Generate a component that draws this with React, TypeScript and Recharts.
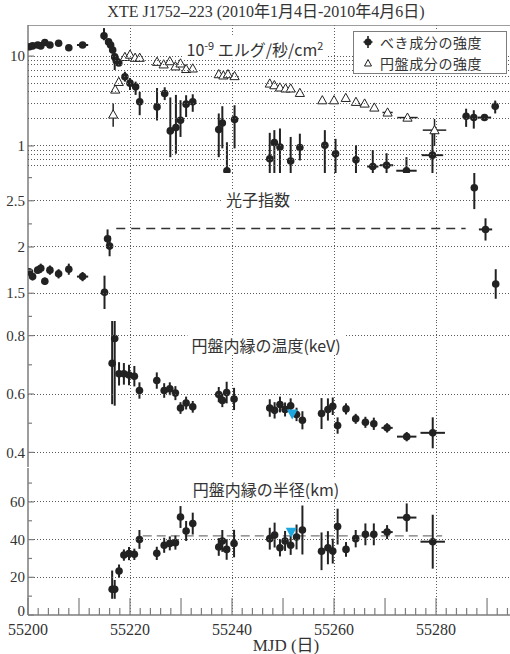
import React from 'react';
import {
  ComposedChart,
  Scatter,
  ErrorBar,
  XAxis,
  YAxis,
  ReferenceLine,
  Legend
} from 'recharts';

// ---- power-law component flux (10^-9 erg/s/cm2)
const plMjd = [
  55200.3, 55200.9, 55201.9, 55202.5, 55203.3, 55204.3, 55206.0, 55208.0, 55210.7,
  55214.9, 55215.8, 55216.2, 55216.6, 55217.0, 55217.3, 55217.8, 55219.0, 55220.0, 55221.1, 55221.9,
  55225.3, 55226.8, 55227.9, 55229.0, 55229.9, 55231.0, 55232.3,
  55237.4, 55238.1, 55239.0, 55240.5,
  55247.4, 55248.3, 55249.4, 55251.5, 55253.3,
  55258.2, 55260.3, 55264.3, 55267.6, 55270.3, 55274.2, 55279.3,
  55285.9, 55287.4, 55289.5, 55291.6
];
const plFlux = [
  12.7, 13.0, 13.3, 13.0, 14.2, 13.3, 13.9, 12.4, 13.3,
  16.8, 14.4, 13.3, 11.7, 9.8, 8.9, 8.4, 5.9, 5.0, 4.55, 3.1,
  2.72, 3.84, 1.47, 1.6, 1.93, 2.92, 3.1,
  1.52, 1.8, 0.53, 1.97,
  0.72, 1.09, 0.975, 0.68, 0.96,
  1.02, 0.82, 0.7, 0.59, 0.61, 0.53, 0.79,
  2.14, 2.07, 2.07, 2.77
];
const plFluxErr = [
  [0.5, 0.5], [0.5, 0.5], [0.5, 0.5], [0.5, 0.5], [0.5, 0.5], [0.5, 0.5], [0.5, 0.5], [0.5, 0.5], [0.5, 0.5],
  [1.8, 3.7], [1, 1], [1, 1], [1, 1], [2.8, 0.9], [0.8, 0.8], [0.6, 0.6], [0.7, 0.8], [0.8, 0.7], [0.85, 0.65], [0.9, 0.9],
  [0.8, 1.7], [0.6, 0.66], [0.72, 2.0], [0.78, 2.1], [0.67, 1.3], [0.82, 0.75], [0.7, 0.66],
  [0.77, 0.78], [0.86, 0.97], [0.23, 0.57], [1.03, 0.87],
  [0.3, 0.68], [0.7, 0.41], [0.6, 0.59], [0.3, 0.58], [0.27, 0.41],
  [0.6, 0.48], [0.4, 0.38], [0.3, 0.32], [0.2, 0.31], [0.2, 0.22], [0.2, 0.22], [0.4, 0.71],
  [0.51, 0.46], [0.51, 0.43], [0.1, 0.1], [0.47, 0.43]
];
const plMjdErr = [
  0, 0, 0, 0, 0, 0, 0, 0, 1.1,
  0, 0, 0, 0, 0, 0, 0, 0, 0, 0, 0,
  0, 0, 0, 0, 0, 0, 0,
  0, 0, 0, 0,
  0, 0, 0, 0, 0,
  0, 0, 0, 1.1, 1.3, 2.0, 2.1,
  0, 0, 1.3, 0
];

// ---- disc component flux
const dkMjd = [
  55216.7, 55217.1, 55217.8, 55219.0, 55220.0, 55221.0, 55221.9,
  55225.3, 55226.6, 55227.8, 55228.9, 55229.9, 55231.0, 55232.3,
  55237.4, 55238.3, 55239.2, 55240.5,
  55247.4, 55248.3, 55249.4, 55250.5, 55251.5, 55253.3,
  55257.7, 55260.0, 55262.3, 55264.3, 55266.0, 55267.9, 55270.5, 55274.4, 55279.7
];
const dkFlux = [
  2.24, 4.25, 5.17, 9.8, 10.4, 9.6, 9.6,
  8.65, 8.1, 8.8, 7.7, 8.3, 7.2, 7.3,
  6.3, 6.1, 6.3, 6.0,
  4.96, 4.75, 4.48, 4.37, 4.37, 3.9,
  3.23, 3.23, 3.43, 3.1, 2.97, 2.68, 2.36, 2.07, 1.5
];
const dkFluxErr = [
  [0.6, 0.73], [0.35, 0.35], 0, 0, 0, 0, 0,
  0, 0, 0, 0, 0, 0, 0,
  0, 0, 0, 0,
  0, 0, 0, 0, 0, 0,
  0, 0, 0, 0, 0, 0, 0, 0, [0.5, 0.5]
];
const dkMjdErr = [
  0, 0, 0, 0, 0, 0, 0,
  0, 0, 0, 0, 0, 0, 0,
  0, 0, 0, 0,
  0, 0, 0, 0, 0, 0.6,
  0, 0, 0, 0, 0, 0, 1.0, 2.0, 2.3
];

// ---- photon index
const ixMjd = [
  55200.3, 55200.9, 55201.9, 55202.5, 55203.3, 55204.3, 55206.0, 55208.0, 55210.7,
  55215.0, 55215.6, 55216.0, 55287.5, 55289.7, 55291.7
];
const ixVal = [1.73, 1.68, 1.75, 1.77, 1.63, 1.75, 1.71, 1.76, 1.68, 1.51, 2.09, 2.01, 2.64, 2.19, 1.6];
const ixErr = [0.04, 0.04, 0.04, 0.05, 0.04, 0.05, 0.05, 0.06, 0.05, 0.18, 0.1, 0.11, 0.23, 0.12, 0.16];
const ixMjdErr = [0, 0, 0, 0, 0, 0, 0, 0, 1.1, 0, 0, 0, 0, 1.3, 0];
const ixFixed = 2.2;
const ixFixedSpan = [55217.3, 55285.8];

// ---- disc fits: inner temperature (keV) and inner radius (km)
const diskMjd = [
  55216.5, 55217.0, 55217.85, 55218.8, 55219.8, 55220.85, 55221.85,
  55225.25, 55226.7, 55227.8, 55228.9, 55229.9, 55231.0, 55232.3,
  55237.4, 55238.1, 55238.95, 55240.4,
  55247.4, 55248.35, 55249.4, 55250.4, 55251.5, 55252.65, 55253.8,
  55257.55, 55258.8, 55259.75, 55260.7, 55262.35, 55264.25, 55266.15, 55267.8,
  55270.4, 55274.25, 55279.35
];
const diskMjdErr = [
  0, 0, 0, 0, 0, 0, 0,
  0, 0, 0, 0, 0, 0, 0,
  0, 0, 0, 0,
  0, 0, 0, 0, 0, 0, 0,
  0, 0, 0, 0, 0, 0, 0, 0,
  1.1, 1.9, 2.4
];
const tinVal = [
  0.705, 0.79, 0.669, 0.669, 0.665, 0.661, 0.612,
  0.646, 0.612, 0.618, 0.603, 0.552, 0.569, 0.556,
  0.598, 0.578, 0.605, 0.583,
  0.552, 0.544, 0.564, 0.547, 0.56, 0.53, 0.51,
  0.533, 0.547, 0.558, 0.492, 0.549, 0.515, 0.503, 0.498,
  0.484, 0.454, 0.467
];
const tinErr = [
  [0.14, 0.2], [0.23, 0.2], 0.04, 0.037, 0.035, 0.035, 0.028,
  0.028, 0.025, 0.022, 0.024, 0.02, 0.022, 0.02,
  0.026, 0.023, 0.037, 0.038,
  0.03, 0.028, 0.027, 0.024, 0.025, 0.023, 0.031,
  0.053, 0.038, 0.03, 0.028, 0.019, 0.017, 0.019, 0.021,
  0.016, 0.016, 0.053
];
const rinVal = [
  13.6, 13.6, 23.3, 31.8, 32.6, 32.2, 40.1,
  32.7, 37.0, 38.0, 38.4, 52.0, 44.6, 48.5,
  36.1, 39.3, 34.8, 37.9,
  40.5, 42.4, 35.7, 39.3, 37.0, 41.4, 45.1,
  33.8, 35.7, 33.9, 46.9, 34.8, 40.5, 42.8, 42.8,
  44.0, 51.7, 38.9
];
const rinErr = [
  [5, 10], [5, 5], 3.5, 3, 3.5, 3, 5,
  3.5, 4, 3.7, 3.7, 5.8, 5.3, 5.8,
  4.7, 5.8, 5.5, 7.3,
  5.8, 6.6, 4.6, 5.3, 5.1, 6.6, 13,
  10, 8.8, 6.6, 9.5, 3.9, 4.6, 5.8, 5.8,
  3.7, 7.5, 14.3
];
const rinMean = 42;
const rinMeanSpan = [55222.5, 55281.2];

// highlighted observation (cyan marker)
const tinMark = [{ mjd: 55251.8, v: 0.53 }];
const rinMark = [{ mjd: 55251.6, v: 43.7 }];

// ---- axes
const X_DOMAIN = [55200, 55294.5];
const xTicks = Array.from({ length: 48 }, (_, i) => 55200 + 2 * i);
const xLabels = [55200, 55220, 55240, 55260, 55280];
const xGrid = [55220, 55240, 55260, 55280];

const fluxDomain = [0.5, 22.2];
const fluxLabels = [1, 10];
const fluxGrid = [0.6, 0.7, 0.8, 0.9, 1, 2, 3, 4, 5, 6, 7, 8, 9, 10];
const ixDomain = [1.2, 2.8];
const ixTicks = [1.25, 1.5, 1.75, 2, 2.25, 2.5, 2.75];
const ixLabels = [1.5, 2, 2.5];
const tinDomain = [0.35, 0.85];
const tinTicks = [0.4, 0.5, 0.6, 0.7, 0.8];
const tinLabels = [0.4, 0.6, 0.8];
const rinDomain = [0, 78];
const rinTicks = [0, 10, 20, 30, 40, 50, 60, 70];
const rinLabels = [0, 20, 40, 60];
const rinGrid = [20, 40, 60];

const PL_NAME = 'べき成分の強度';
const DK_NAME = '円盤成分の強度';

const INK = '#222';
const AXIS = '#7d7d7d';
const GRID = '#5a5a5a';
const CYAN = '#1ea6df';
const SERIF = "'Liberation Serif', 'Times New Roman', 'Noto Sans CJK JP', serif";
const SANS = "'Noto Sans CJK JP', 'Noto Sans', sans-serif";
const W = 510;
const AXIS_W = 28;
const PLOT_W = W - AXIS_W;

type Pt = { mjd: number; v: number; ey: number | number[]; ex: number };

function toPoints(mjd: number[], vals: number[], yErr: (number | number[])[], xErr: number[]): Pt[] {
  return mjd.map((m, i) => ({ mjd: m, v: vals[i], ey: yErr[i] ?? 0, ex: xErr[i] ?? 0 }));
}

const plPoints = toPoints(plMjd, plFlux, plFluxErr, plMjdErr);
const dkPoints = toPoints(dkMjd, dkFlux, dkFluxErr, dkMjdErr);
const ixPoints = toPoints(ixMjd, ixVal, ixErr, ixMjdErr);
const tinPoints = toPoints(diskMjd, tinVal, tinErr, diskMjdErr);
const rinPoints = toPoints(diskMjd, rinVal, rinErr, diskMjdErr);

// markers
const Dot = (p: any) => <circle cx={p.cx} cy={p.cy} r={3.8} fill={INK} />;
const OpenTri = (p: any) => (
  <path
    d={`M${p.cx},${p.cy - 4.6}L${p.cx + 4.6},${p.cy + 3.6}L${p.cx - 4.6},${p.cy + 3.6}Z`}
    fill="#fff"
    stroke={INK}
    strokeWidth={1}
  />
);
const CyanTri = (p: any) => (
  <path d={`M${p.cx - 5.5},${p.cy - 5}L${p.cx + 5.5},${p.cy - 5}L${p.cx},${p.cy + 5}Z`} fill={CYAN} />
);

// snap a 1px dotted line onto a pixel centre
const snap = (v: number) => Math.floor(v) + 0.5;

// vertical dotted guides at every 20 days
const VGridShape = (p: any) => (
  <line
    x1={snap(p.x1)}
    x2={snap(p.x2)}
    y1={p.y1}
    y2={p.y2}
    stroke={GRID}
    strokeWidth={1}
    strokeDasharray="1 2"
  />
);
const vGrid = () => xGrid.map((v) => <ReferenceLine key={`v${v}`} x={v} shape={VGridShape} />);

// ticks on the bottom edge point up into the panel; every 10 days is a long one
function XTick(props: any) {
  const { x, y, payload, labelled } = props;
  const v = payload.value;
  const major = v % 10 === 0;
  return (
    <g>
      <line x1={x} x2={x} y1={y} y2={y - (major ? 17 : 7)} stroke={AXIS} strokeWidth={1.2} />
      {labelled && xLabels.includes(v) && (
        <text x={x} y={y + 20} textAnchor="middle" fontFamily={SERIF} fontSize={16} fill="#333">
          {v}
        </text>
      )}
    </g>
  );
}

// left ticks: optional short inward mark, optional label, and the dotted guide across the panel
function YTick(props: any) {
  const { x, y, payload, labels, marks, grid } = props;
  const v = payload.value;
  const shown = labels.includes(v);
  const marked = marks.includes(v);
  const guided = grid.includes(v);
  // the zero label sits a little above the bottom edge
  const dy = v === 0 ? '0.05em' : '0.34em';
  return (
    <g>
      {guided && (
        <line
          x1={x}
          x2={x + PLOT_W}
          y1={snap(y)}
          y2={snap(y)}
          stroke={GRID}
          strokeWidth={1}
          strokeDasharray="1 2"
        />
      )}
      {marked && <line x1={x} x2={x + (shown ? 6 : 4)} y1={y} y2={y} stroke={AXIS} strokeWidth={1.2} />}
      {shown && (
        <text x={x - 3} y={y} dy={dy} textAnchor="end" fontFamily={SERIF} fontSize={15} fill="#333">
          {String(v)}
        </text>
      )}
    </g>
  );
}

function FluxLegend(props: any) {
  const items = (props.payload ?? []).slice().sort((a: any) => (a.value === PL_NAME ? -1 : 1));
  return (
    <div
      style={{
        border: `1px solid ${AXIS}`,
        background: '#fff',
        padding: '0 6px',
        fontFamily: SANS,
        fontSize: 14,
        color: '#333'
      }}
    >
      {items.map((it: any) => (
        <div key={it.value} style={{ display: 'flex', alignItems: 'center', height: 20.5 }}>
          <svg width={16} height={16} style={{ marginRight: 4, flex: 'none' }}>
            {it.value === PL_NAME ? (
              <g>
                <line x1={8} x2={8} y1={2} y2={14} stroke={INK} strokeWidth={1.6} />
                <line x1={3.5} x2={12.5} y1={8} y2={8} stroke={INK} strokeWidth={1.6} />
                <circle cx={8} cy={8} r={3.6} fill={INK} />
              </g>
            ) : (
              <path d="M8,4.5L11.5,11L4.5,11Z" fill="#fff" stroke={INK} strokeWidth={1} />
            )}
          </svg>
          <span style={{ letterSpacing: 0.6 }}>{it.value}</span>
        </div>
      ))}
    </div>
  );
}

function PanelTitle({ cx, cy, children }: { cx: number; cy: number; children: React.ReactNode }) {
  return (
    <div
      style={{
        position: 'absolute',
        left: cx,
        top: cy,
        transform: 'translate(-50%, -50%)',
        background: '#fff',
        padding: '0 4px',
        fontFamily: SANS,
        fontSize: 16,
        lineHeight: '20px',
        color: '#333',
        whiteSpace: 'nowrap'
      }}
    >
      {children}
    </div>
  );
}

const margin = { top: 0, right: 0, bottom: 0, left: 0 };
const axisLine = { stroke: AXIS, strokeWidth: 1.5 };

const xAxisProps: any = {
  type: 'number',
  dataKey: 'mjd',
  domain: X_DOMAIN,
  allowDataOverflow: true,
  ticks: xTicks,
  interval: 0,
  tickSize: 0,
  tickMargin: 0,
  tickLine: false,
  axisLine
};

const yAxisProps: any = {
  type: 'number',
  dataKey: 'v',
  allowDataOverflow: true,
  width: AXIS_W,
  interval: 0,
  tickSize: 0,
  tickMargin: 0,
  tickLine: false,
  axisLine
};

const errY = { dataKey: 'ey', direction: 'y', width: 0, stroke: INK, strokeWidth: 2 } as any;
const errX = { dataKey: 'ex', direction: 'x', width: 0, stroke: INK, strokeWidth: 2 } as any;

export default function App() {
  return (
    <div style={{ position: 'absolute', left: 0, top: 0, width: W, height: 654, background: '#fff', overflow: 'hidden' }}>
      <div
        style={{
          position: 'absolute',
          left: 0,
          top: 2,
          width: 532,
          textAlign: 'center',
          fontFamily: SERIF,
          fontSize: 16,
          lineHeight: '19px',
          color: '#333'
        }}
      >
        XTE J1752–223 (2010年1月4日-2010年4月6日)
      </div>

      {/* fluxes, log scale */}
      <div style={{ position: 'absolute', left: 0, top: 25 }}>
        <ComposedChart width={W} height={148} margin={margin}>
          <XAxis {...xAxisProps} height={0} tick={<XTick />} />
          <YAxis
            {...yAxisProps}
            scale="log"
            domain={fluxDomain}
            ticks={fluxGrid}
            tick={<YTick labels={fluxLabels} marks={fluxLabels} grid={fluxGrid} />}
          />
          {vGrid()}
          <ReferenceLine y={fluxDomain[1]} stroke={AXIS} strokeWidth={1.5} />
          <Scatter name={PL_NAME} data={plPoints} shape={Dot} isAnimationActive={false}>
            <ErrorBar {...errY} />
            <ErrorBar {...errX} />
          </Scatter>
          <Scatter name={DK_NAME} data={dkPoints} shape={OpenTri} isAnimationActive={false}>
            <ErrorBar {...errY} strokeWidth={1.5} />
            <ErrorBar {...errX} strokeWidth={1.5} />
          </Scatter>
          <Legend
            layout="horizontal"
            verticalAlign="middle"
            align="center"
            wrapperStyle={{ left: 353, top: 6, width: 154 }}
            content={FluxLegend}
          />
        </ComposedChart>
        <PanelTitle cx={255} cy={22}>
          10<sup style={{ fontSize: 11 }}>-9</sup> エルグ/秒/cm<sup style={{ fontSize: 11 }}>2</sup>
        </PanelTitle>
      </div>

      {/* photon index */}
      <div style={{ position: 'absolute', left: 0, top: 173 }}>
        <ComposedChart width={W} height={148} margin={margin}>
          <XAxis {...xAxisProps} height={0} tick={<XTick />} />
          <YAxis
            {...yAxisProps}
            domain={ixDomain}
            ticks={ixTicks}
            tick={<YTick labels={ixLabels} marks={ixTicks} grid={ixLabels} />}
          />
          {vGrid()}
          <ReferenceLine
            segment={[
              { x: ixFixedSpan[0], y: ixFixed },
              { x: ixFixedSpan[1], y: ixFixed }
            ]}
            stroke="#333"
            strokeWidth={1.3}
            strokeDasharray="9 6"
          />
          <Scatter name="光子指数" data={ixPoints} shape={Dot} isAnimationActive={false}>
            <ErrorBar {...errY} />
            <ErrorBar {...errX} />
          </Scatter>
        </ComposedChart>
        <PanelTitle cx={258} cy={26}>光子指数</PanelTitle>
      </div>

      {/* inner disc temperature */}
      <div style={{ position: 'absolute', left: 0, top: 321 }}>
        <ComposedChart width={W} height={146} margin={margin}>
          <XAxis {...xAxisProps} height={0} tick={<XTick />} />
          <YAxis
            {...yAxisProps}
            domain={tinDomain}
            ticks={tinTicks}
            tick={<YTick labels={tinLabels} marks={tinTicks} grid={tinLabels} />}
          />
          {vGrid()}
          <Scatter name="円盤内縁の温度" data={tinPoints} shape={Dot} isAnimationActive={false}>
            <ErrorBar {...errY} />
            <ErrorBar {...errX} />
          </Scatter>
          <Scatter name="温度(注目)" data={tinMark} shape={CyanTri} isAnimationActive={false} />
        </ComposedChart>
        <PanelTitle cx={266} cy={24}>円盤内縁の温度(keV)</PanelTitle>
      </div>

      {/* inner disc radius */}
      <div style={{ position: 'absolute', left: 0, top: 468 }}>
        <ComposedChart width={W} height={185} margin={margin}>
          <XAxis {...xAxisProps} height={38} tick={<XTick labelled />} />
          <YAxis
            {...yAxisProps}
            domain={rinDomain}
            ticks={rinTicks}
            tick={<YTick labels={rinLabels} marks={rinTicks} grid={rinGrid} />}
          />
          {vGrid()}
          <ReferenceLine
            segment={[
              { x: rinMeanSpan[0], y: rinMean },
              { x: rinMeanSpan[1], y: rinMean }
            ]}
            stroke="#777"
            strokeWidth={1.3}
            strokeDasharray="9 5"
          />
          <Scatter name="円盤内縁の半径" data={rinPoints} shape={Dot} isAnimationActive={false}>
            <ErrorBar {...errY} />
            <ErrorBar {...errX} />
          </Scatter>
          <Scatter name="半径(注目)" data={rinMark} shape={CyanTri} isAnimationActive={false} />
        </ComposedChart>
        <PanelTitle cx={266} cy={21}>円盤内縁の半径(km)</PanelTitle>
      </div>

      <div
        style={{
          position: 'absolute',
          left: 286,
          top: 643,
          transform: 'translate(-50%, -50%)',
          fontFamily: SERIF,
          fontSize: 17,
          color: '#333',
          whiteSpace: 'nowrap'
        }}
      >
        MJD (日)
      </div>
    </div>
  );
}
